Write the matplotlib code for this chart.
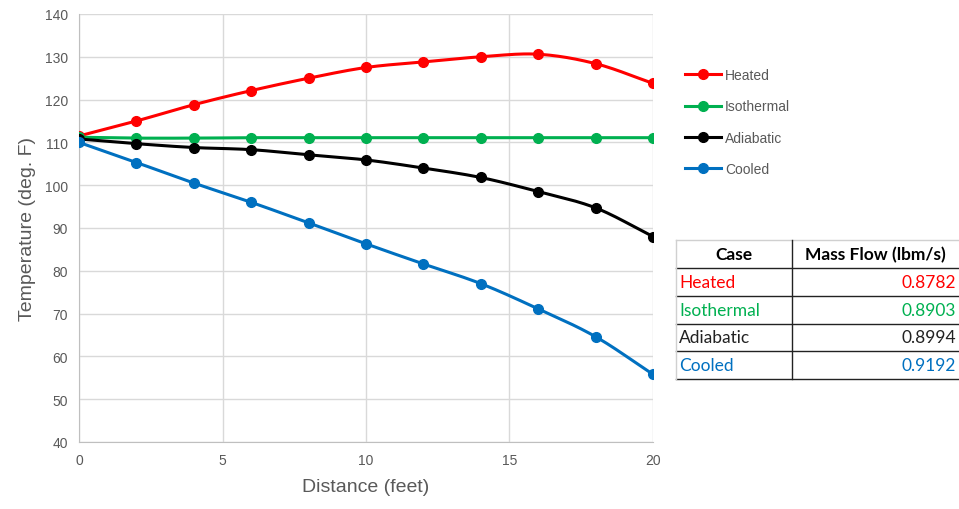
import numpy as np
import matplotlib.pyplot as plt
from matplotlib.lines import Line2D

# data
distance = [0, 2, 4, 6, 8, 10, 12, 14, 16, 18, 20]
heated = [111.5, 115.0, 118.8, 122.1, 125.0, 127.5, 128.8, 130.0, 130.6, 128.4, 123.8]
isothermal = [111.2, 111.0, 111.0, 111.1, 111.1, 111.1, 111.1, 111.1, 111.1, 111.1, 111.1]
adiabatic = [110.8, 109.7, 108.8, 108.3, 107.1, 105.9, 104.0, 101.8, 98.5, 94.7, 88.0]
cooled = [110.0, 105.3, 100.5, 96.0, 91.2, 86.3, 81.6, 77.0, 71.1, 64.6, 55.8]

cases = ['Heated', 'Isothermal', 'Adiabatic', 'Cooled']
mass_flow = ['0.8782', '0.8903', '0.8994', '0.9192']
colors = ['#FF0000', '#00B050', '#000000', '#0070C0']

plt.rcParams['font.family'] = ['Liberation Sans', 'DejaVu Sans']


def smooth(x, y, n=20):
    # catmull-rom curve through the points, like Excel's smoothed line
    x = np.asarray(x, float)
    y = np.asarray(y, float)
    px = np.concatenate([[2 * x[0] - x[1]], x, [2 * x[-1] - x[-2]]])
    py = np.concatenate([[2 * y[0] - y[1]], y, [2 * y[-1] - y[-2]]])
    xs, ys = [], []
    t = np.linspace(0, 1, n, endpoint=False)
    for i in range(1, len(px) - 2):
        for p, out in ((px, xs), (py, ys)):
            p0, p1, p2, p3 = p[i - 1], p[i], p[i + 1], p[i + 2]
            out.extend(0.5 * (2 * p1 + (-p0 + p2) * t + (2 * p0 - 5 * p1 + 4 * p2 - p3) * t ** 2
                              + (-p0 + 3 * p1 - 3 * p2 + p3) * t ** 3))
    xs.append(x[-1])
    ys.append(y[-1])
    return np.array(xs), np.array(ys)


fig = plt.figure(figsize=(9.59, 5.10), dpi=100)
ax = fig.add_axes([0.0824, 0.1314, 0.5985, 0.8392])

series = [heated, isothermal, adiabatic, cooled]
handles = []
for name, vals, c in zip(cases, series, colors):
    sx, sy = smooth(distance, vals)
    ax.plot(sx, sy, color=c, lw=2.2, zorder=3)
    ax.plot(distance, vals, 'o', color=c, ms=7, zorder=4)
    handles.append(Line2D([], [], color=c, lw=2.2, marker='o', ms=7, label=name))

ax.set_xlim(0, 20)
ax.set_ylim(40, 140)
ax.set_xticks([0, 5, 10, 15, 20])
ax.set_yticks(range(40, 141, 10))
ax.grid(True, color='#D9D9D9', lw=1)
ax.set_axisbelow(True)
for s in ['top', 'right']:
    ax.spines[s].set_visible(False)
for s in ['left', 'bottom']:
    ax.spines[s].set_color('#BFBFBF')
ax.tick_params(length=0, labelsize=10, colors='#595959', pad=8)
ax.set_xlabel('Distance (feet)', fontsize=14, color='#595959', labelpad=8)
ax.set_ylabel('Temperature (deg. F)', fontsize=14, color='#595959', labelpad=6)

fig.legend(handles=handles, loc='upper left', bbox_to_anchor=(0.701, 0.889),
           frameon=False, fontsize=10, labelcolor='#595959', handlelength=2.6,
           labelspacing=1.25, handletextpad=0.3)

# table of mass flows
W, H = 959, 510
x0, xm, x1 = 676, 792, 958
rows = [241, 269, 297, 325, 352, 380]
tf = ['Lato', 'DejaVu Sans']


def fx(px):
    return px / W


def fy(py):
    return 1 - py / H


for i, yy in enumerate(rows):
    col = '#D0D0D0' if i == 0 else '#222222'
    fig.add_artist(Line2D([fx(x0), fx(x1)], [fy(yy), fy(yy)], color=col, lw=1))
fig.add_artist(Line2D([fx(x0), fx(x0)], [fy(rows[0]), fy(rows[-1])], color='#D0D0D0', lw=1))
fig.add_artist(Line2D([fx(xm), fx(xm)], [fy(rows[0]), fy(rows[-1])], color='#222222', lw=1))

ymid = (rows[0] + rows[1]) / 2
fig.text(fx((x0 + xm) / 2), fy(ymid), 'Case', ha='center', va='center',
         fontsize=12.5, fontweight='bold', family=tf)
fig.text(fx((xm + x1) / 2), fy(ymid), 'Mass Flow (lbm/s)', ha='center', va='center',
         fontsize=12.5, fontweight='bold', family=tf)
for i, (name, mf, c) in enumerate(zip(cases, mass_flow, colors)):
    ym = (rows[i + 1] + rows[i + 2]) / 2
    tc = '#222222' if c == '#000000' else c
    fig.text(fx(x0 + 3), fy(ym), name, ha='left', va='center', fontsize=12.5, color=tc, family=tf)
    fig.text(fx(x1 - 2), fy(ym), mf, ha='right', va='center', fontsize=12.5, color=tc, family=tf)

fig.savefig('out.png', dpi=100)
